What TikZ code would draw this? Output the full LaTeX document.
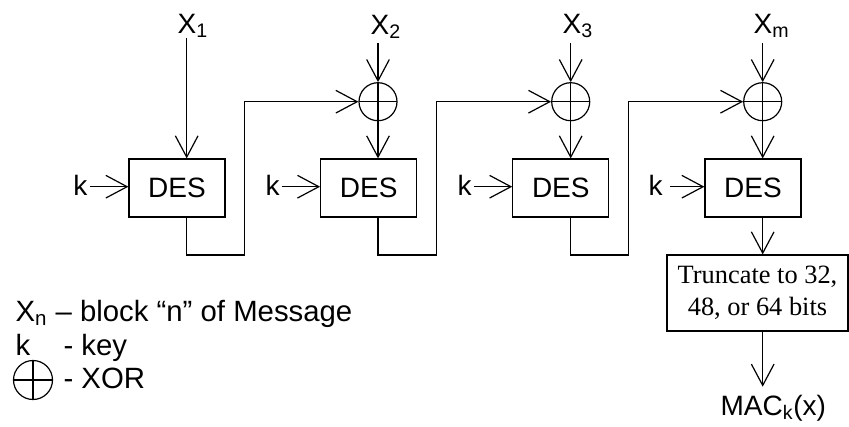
\documentclass[tikz,border=0pt]{standalone}
\usepackage{fontspec}
\setmainfont{Liberation Sans}
\newfontfamily\boxserif{Liberation Serif}
\usetikzlibrary{arrows.meta,calc}
\begin{document}
\begin{tikzpicture}[x=0.75pt,y=-0.75pt,line width=0.9pt,
  arr/.style={-{Straight Barb[length=16pt,width=17pt,line width=0.9pt]}},
  desbox/.style={draw,minimum width=72pt,minimum height=43.5pt,inner sep=0pt,
    font=\fontsize{21}{25}\selectfont},
  xorgate/.style={draw,circle,minimum size=28.5pt,inner sep=0pt,
    path picture={\draw (path picture bounding box.north)--(path picture bounding box.south)
                        (path picture bounding box.west)--(path picture bounding box.east);}},
  lbl/.style={font=\fontsize{21}{25}\selectfont,inner sep=0pt,anchor=base west},
  leg/.style={font=\fontsize{22}{26}\selectfont,inner sep=0pt,anchor=base west},
  truncbox/.style={draw,minimum width=135.75pt,minimum height=57pt,inner sep=0pt,
    align=center,font=\boxserif\fontsize{19.8}{24}\selectfont}]
\useasboundingbox (0,0) rectangle (849,426);

% DES stages
\node[desbox] (d1) at (177,188) {DES};
\node[desbox] (d2) at (368.7,188) {DES};
\node[desbox] (d3) at (560.8,188) {DES};
\node[desbox] (d4) at (753,188) {DES};

% XOR gates
\node[xorgate] (o2) at (378,101.7) {};
\node[xorgate] (o3) at (570.7,101.7) {};
\node[xorgate] (o4) at (762.7,101.7) {};

% message blocks
\node[lbl] (x1) at (177,33) {X\textsubscript{1}};
\node[lbl] (x2) at (370,34) {X\textsubscript{2}};
\node[lbl] (x3) at (562,33) {X\textsubscript{3}};
\node[lbl] (xm) at (753,33) {X\textsubscript{m}};
\coordinate (in1) at (186.7,38);
\coordinate (in2) at (378,43);
\coordinate (in3) at (570.7,43);
\coordinate (in4) at (762.7,43);

\draw[arr] (in1) -- (in1 |- d1.north);
\draw[arr] (in2) -- (o2.north);
\draw[arr] (in3) -- (o3.north);
\draw[arr] (in4) -- (o4.north);
\draw[arr] (o2.south) -- (o2 |- d2.north);
\draw[arr] (o3.south) -- (o3 |- d3.north);
\draw[arr] (o4.south) -- (o4 |- d4.north);

% keys
\node[lbl] (k1) at (72.7,195) {k};
\node[lbl] (k2) at (265,195) {k};
\node[lbl] (k3) at (457,195) {k};
\node[lbl] (k4) at (648,195) {k};
\coordinate (ks1) at (90,186.7);
\coordinate (ks2) at (281.7,186.7);
\coordinate (ks3) at (474,186.7);
\coordinate (ks4) at (670,186.7);
\draw[arr] (ks1) -- (ks1 -| d1.west);
\draw[arr] (ks2) -- (ks2 -| d2.west);
\draw[arr] (ks3) -- (ks3 -| d3.west);
\draw[arr] (ks4) -- (ks4 -| d4.west);

% chaining
\coordinate (j1) at (244.3,255);
\coordinate (j2) at (436.3,255);
\coordinate (j3) at (628.3,255);
\draw[arr] (in1 |- d1.south) |- (j1) |- (o2.west);
\draw[arr] (in2 |- d2.south) |- (j2) |- (o3.west);
\draw[arr] (in3 |- d3.south) |- (j3) |- (o4.west);

% truncation and output
\node[truncbox] (tr) at (757.5,293) {Truncate to 32,\\48, or 64 bits};
\draw[arr] (in4 |- d4.south) -- (in4 |- tr.north);
\node[lbl] (mac) at (720,415) {MAC\textsubscript{k}(x)};
\coordinate (macin) at (762.7,386.7);
\draw[arr] (in4 |- tr.south) -- (macin);

% legend
\node[leg] (lx) at (15,321) {X\textsubscript{n}};
\node[leg] (lxt) at (55,321) {– block “n” of Message};
\node[leg] (lk) at (15,355) {k};
\node[leg] (lkt) at (63,355) {- key};
\node[xorgate,minimum size=29.25pt] (lo) at (33,380) {};
\node[leg] (lot) at (63,388) {- XOR};
\end{tikzpicture}
\end{document}
